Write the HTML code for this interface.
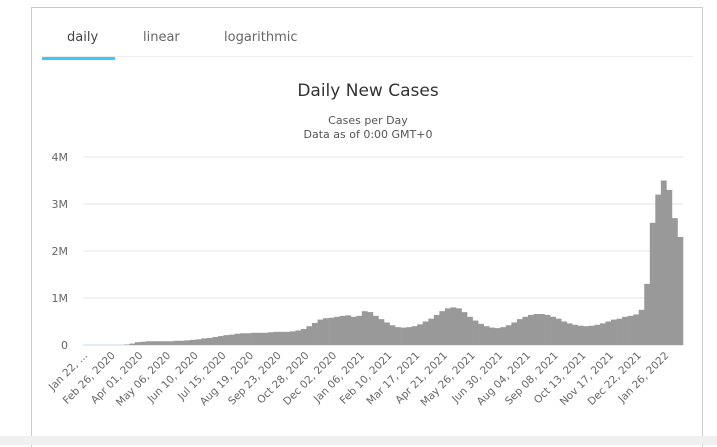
<!DOCTYPE html>
<html><head><meta charset="utf-8"><style>
body{margin:0;width:717px;height:445px;background:#fff;position:relative;overflow:hidden;font-family:"DejaVu Sans","Liberation Sans",sans-serif;}
#card{position:absolute;left:31px;top:7px;width:672px;height:440px;border:1px solid #ccc;border-bottom:none;box-sizing:border-box;}
#band{position:absolute;left:0;top:436px;width:717px;height:9px;background:#f0f0f0;}
.tab{position:absolute;top:30px;font-size:13px;color:#666;}
#tabline{position:absolute;left:42px;top:56px;width:651px;height:1px;background:#eee;}
#tabsel{position:absolute;left:42px;top:57px;width:73px;height:3px;background:#3cc9f5;}
svg{position:absolute;left:0;top:0;}
</style></head><body>
<div id="card"></div>
<div id="band"></div>
<div class="tab" style="left:67px;color:#444">daily</div>
<div class="tab" style="left:143px">linear</div>
<div class="tab" style="left:224px">logarithmic</div>
<div id="tabline"></div>
<div id="tabsel"></div>
<svg id="chart" width="717" height="445">
<text x="368" y="96" text-anchor="middle" font-size="17" fill="#333">Daily New Cases</text>
<text x="368" y="124" text-anchor="middle" font-size="11" fill="#555">Cases per Day</text>
<text x="368" y="138" text-anchor="middle" font-size="11" fill="#555">Data as of 0:00 GMT+0</text>
</svg>
<script>
const yTicks=[0,1,2,3,4];
const yTickLabels=["0","1M","2M","3M","4M"];
const xTickLabels=["Jan 22, ...","Feb 26, 2020","Apr 01, 2020","May 06, 2020","Jun 10, 2020","Jul 15, 2020","Aug 19, 2020","Sep 23, 2020","Oct 28, 2020","Dec 02, 2020","Jan 06, 2021","Feb 10, 2021","Mar 17, 2021","Apr 21, 2021","May 26, 2021","Jun 30, 2021","Aug 04, 2021","Sep 08, 2021","Oct 13, 2021","Nov 17, 2021","Dec 22, 2021","Jan 26, 2022"];
// weekly new cases (millions/day), weeks starting Jan 22 2020
const weeklyCases=[0,0,0,0,0,0,0,0.01,
0.03,0.06,0.07,0.08, 0.08,0.08,0.08,0.08, 0.09,0.09,0.1,0.11, 0.12,0.14,0.15,0.17,
0.19,0.21,0.22,0.24, 0.25,0.25,0.26,0.26, 0.26,0.27,0.28,0.28, 0.28,0.29,0.31,0.34,
0.4,0.47,0.54,0.57, 0.58,0.6,0.62,0.63, 0.6,0.62,0.72,0.7, 0.62,0.55,0.48,0.42,
0.38,0.37,0.38,0.4, 0.44,0.5,0.56,0.64, 0.72,0.78,0.8,0.78, 0.7,0.6,0.52,0.45,
0.4,0.37,0.36,0.38, 0.42,0.48,0.55,0.6, 0.64,0.66,0.66,0.64, 0.6,0.56,0.5,0.46,
0.43,0.41,0.4,0.41, 0.43,0.46,0.5,0.54, 0.56,0.6,0.62,0.65, 0.75,1.3,2.6,3.2,
3.5,3.3,2.7,2.3];
const NS='http://www.w3.org/2000/svg';
const svg=document.getElementById('chart');
const x0=85,x1=683,y0=345,pxPerM=47;
const totalDays=weeklyCases.length*7;
const xs=d=>x0+(x1-x0)*d/totalDays;
const ys=v=>y0-v*pxPerM;
function mk(tag,attrs){const e=document.createElementNS(NS,tag);for(const k in attrs)e.setAttribute(k,attrs[k]);svg.appendChild(e);return e;}
yTicks.forEach((t,i)=>{
  const g=mk('line',{x1:x0-2,x2:x1,y1:ys(t),y2:ys(t),stroke:i==0?'#ccd6eb':'#e6e6e6','stroke-width':1});
  
  
  const l=mk('text',{x:68,y:ys(t)+4,'text-anchor':'end','font-size':11,fill:'#666'});
  l.textContent=yTickLabels[i];
  
  
});
weeklyCases.forEach((v,i)=>{
  if(v<=0)return;
  const r=mk('rect',{x:xs(i*7),y:ys(v),width:xs(i*7+7)-xs(i*7)+0.3,height:v*pxPerM,fill:'#999'});
  
  
});
xTickLabels.forEach((s,i)=>{
  const x=xs(i*35);
  const t=mk('text',{x:x+3,y:356,'text-anchor':'end','font-size':10.5,fill:'#666',transform:'rotate(-45 '+(x+3)+' 356)'});
  t.textContent=s;
  
  
});
</script>
</body></html>
